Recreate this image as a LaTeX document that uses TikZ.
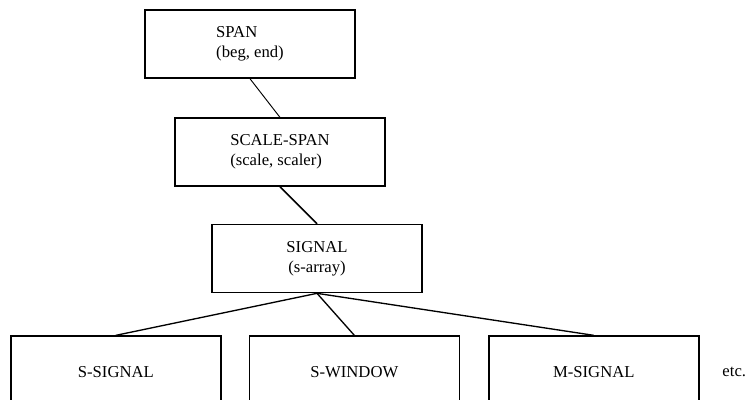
\documentclass[tikz,border=0pt]{standalone}
\usepackage{fontspec}
\setmainfont{Liberation Serif}
\usetikzlibrary{positioning}

\begin{document}
\begin{tikzpicture}[
  x=0.75pt,y=-0.75pt,
  font=\fontsize{12.5}{15}\selectfont,
  cls/.style={draw,line width=1.1pt,minimum width=157.5pt,minimum height=51pt,inner sep=0pt},
  leaf/.style={cls,minimum height=54pt},
  link/.style={line width=1pt},
]
\clip (0,0) rectangle (751,400);
\fill[white] (0,0) rectangle (751,400);

\node[cls,align=left] (span) at (250,44) {SPAN\\(beg, end)};
\node[cls,align=left,below=29pt of span,xshift=22.5pt] (scalespan) {SCALE-SPAN\\(scale, scaler)};
\node[cls,align=center,below=27.75pt of scalespan,xshift=27.75pt] (signal) {SIGNAL\\(s-array)};

\node[leaf,below=31.5pt of signal,xshift=28pt] (swindow) {S-WINDOW};
\node[leaf,left=20.25pt of swindow] (ssignal) {S-SIGNAL};
\node[leaf,right=21pt of swindow] (msignal) {M-SIGNAL};
\node[right=17pt of msignal,inner sep=0pt] (etc) {etc.};

\draw[link,line width=0.7pt] (span.south) -- (scalespan.north);
\draw[link,line width=1.2pt] (scalespan.south) -- (signal.north);
\draw[link] (signal.south) -- (ssignal.north);
\draw[link] (signal.south) -- (swindow.north);
\draw[link] (signal.south) -- (msignal.north);
\end{tikzpicture}
\end{document}
